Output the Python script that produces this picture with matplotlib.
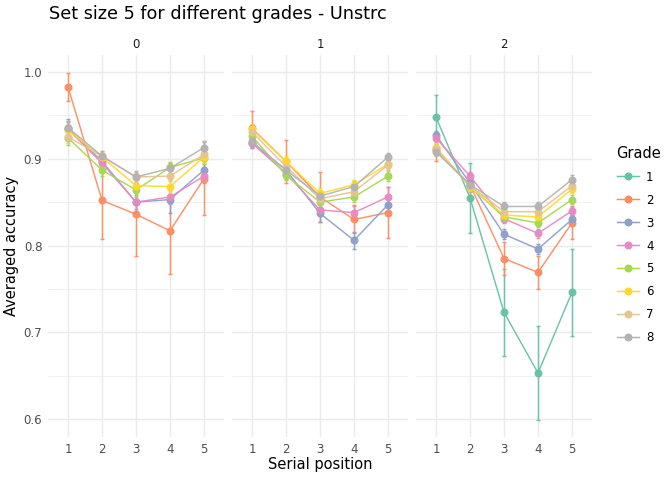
import numpy as np
import matplotlib
matplotlib.use("Agg")
import matplotlib.pyplot as plt
from matplotlib.lines import Line2D

# ====== data ======
positions = [1, 2, 3, 4, 5]
panels = ["0", "1", "2"]
grades = ["1", "2", "3", "4", "5", "6", "7", "8"]
colors = ["#66C2A5", "#FC8D62", "#8DA0CB", "#E78AC3",
          "#A6D854", "#FFD92F", "#E5C494", "#B3B3B3"]

# mean accuracy per panel -> grade -> position (grade 1 only in panel 2)
acc_0 = {
    "2": [0.983, 0.852, 0.836, 0.817, 0.877],
    "3": [0.935, 0.897, 0.850, 0.853, 0.887],
    "4": [0.934, 0.895, 0.850, 0.856, 0.880],
    "5": [0.924, 0.887, 0.864, 0.890, 0.901],
    "6": [0.933, 0.902, 0.869, 0.868, 0.902],
    "7": [0.925, 0.903, 0.879, 0.880, 0.905],
    "8": [0.936, 0.903, 0.879, 0.889, 0.913],
}
se_0 = {
    "2": [0.016, 0.045, 0.048, 0.050, 0.042],
    "3": [0.011, 0.008, 0.014, 0.015, 0.008],
    "4": [0.008, 0.007, 0.008, 0.008, 0.008],
    "5": [0.008, 0.007, 0.008, 0.006, 0.007],
    "6": [0.007, 0.006, 0.007, 0.007, 0.007],
    "7": [0.007, 0.006, 0.006, 0.006, 0.007],
    "8": [0.007, 0.006, 0.007, 0.006, 0.007],
}
acc_1 = {
    "2": [0.935, 0.897, 0.856, 0.830, 0.838],
    "3": [0.918, 0.887, 0.837, 0.806, 0.847],
    "4": [0.918, 0.883, 0.841, 0.838, 0.856],
    "5": [0.926, 0.881, 0.850, 0.856, 0.880],
    "6": [0.934, 0.897, 0.860, 0.870, 0.894],
    "7": [0.931, 0.891, 0.854, 0.862, 0.893],
    "8": [0.920, 0.887, 0.857, 0.868, 0.902],
}
se_1 = {
    "2": [0.020, 0.025, 0.029, 0.015, 0.029],
    "3": [0.006, 0.006, 0.010, 0.010, 0.007],
    "4": [0.006, 0.006, 0.007, 0.009, 0.011],
    "5": [0.006, 0.006, 0.007, 0.006, 0.006],
    "6": [0.006, 0.006, 0.006, 0.006, 0.006],
    "7": [0.006, 0.006, 0.006, 0.006, 0.006],
    "8": [0.006, 0.006, 0.006, 0.006, 0.005],
}
acc_2 = {
    "1": [0.948, 0.855, 0.723, 0.653, 0.746],
    "2": [0.910, 0.870, 0.785, 0.769, 0.826],
    "3": [0.927, 0.872, 0.813, 0.796, 0.830],
    "4": [0.924, 0.880, 0.831, 0.814, 0.840],
    "5": [0.912, 0.868, 0.833, 0.826, 0.853],
    "6": [0.913, 0.868, 0.835, 0.833, 0.865],
    "7": [0.911, 0.869, 0.839, 0.839, 0.869],
    "8": [0.908, 0.870, 0.845, 0.845, 0.876],
}
se_2 = {
    "1": [0.025, 0.040, 0.050, 0.054, 0.050],
    "2": [0.012, 0.008, 0.019, 0.019, 0.018],
    "3": [0.005, 0.005, 0.006, 0.006, 0.005],
    "4": [0.005, 0.005, 0.005, 0.005, 0.005],
    "5": [0.005, 0.005, 0.005, 0.005, 0.005],
    "6": [0.005, 0.005, 0.005, 0.005, 0.005],
    "7": [0.005, 0.005, 0.005, 0.005, 0.005],
    "8": [0.005, 0.005, 0.005, 0.005, 0.005],
}
accs = [acc_0, acc_1, acc_2]
ses = [se_0, se_1, se_2]

# ====== figure ======
W, H = 672, 480
fig = plt.figure(figsize=(W / 96, H / 96), dpi=96)

grid_col = "#EBEBEB"
left_px, panel_w, gap = 47.6, 176.8, 7.2
top_px, bot_px = 54.7, 437.2

axes = []
for i, name in enumerate(panels):
    x0 = left_px + i * (panel_w + gap)
    ax = fig.add_axes([x0 / W, 1 - bot_px / H, panel_w / W, (bot_px - top_px) / H])
    axes.append(ax)
    ax.set_xlim(0.4, 5.6)
    ax.set_ylim(0.579, 1.02)
    ax.set_xticks(positions)
    ax.set_yticks([0.6, 0.7, 0.8, 0.9, 1.0])
    ax.set_yticks([0.65, 0.75, 0.85, 0.95], minor=True)
    ax.grid(True, which="major", color=grid_col, linewidth=1.1)
    ax.grid(True, which="minor", axis="y", color=grid_col, linewidth=0.55)
    ax.set_axisbelow(True)
    for s in ax.spines.values():
        s.set_visible(False)
    ax.tick_params(which="both", length=0, labelsize=8.8, labelcolor="#4D4D4D", pad=4)
    if i > 0:
        ax.set_yticklabels([])
    else:
        ax.set_yticklabels(["0.6", "0.7", "0.8", "0.9", "1.0"])
    ax.set_title(name, fontsize=8.8, color="#1A1A1A", pad=5)

    for g, c in zip(grades, colors):
        if g not in accs[i]:
            continue
        y = accs[i][g]
        e = ses[i][g]
        ax.errorbar(positions, y, yerr=e, color=c, linewidth=1.1,
                    elinewidth=1.1, capsize=1.4, capthick=1.1,
                    marker="o", markersize=5, alpha=0.95)

fig.text(49 / W, 1 - 14 / H, "Set size 5 for different grades - Unstrc",
         fontsize=13.2, color="black", ha="left", va="center")
fig.text((left_px + (3 * panel_w + 2 * gap) / 2) / W, 1 - 465 / H,
         "Serial position", fontsize=11, ha="center", va="center")
fig.text(12 / W, 1 - (top_px + bot_px) / 2 / H, "Averaged accuracy",
         fontsize=11, ha="center", va="center", rotation=90)

handles = [Line2D([0], [0], color=c, linewidth=1.1, marker="o", markersize=5)
           for c in colors]
fig.legend(handles, grades, title="Grade", loc="center left",
           bbox_to_anchor=(606 / W, 1 - 245 / H), frameon=False,
           fontsize=8.8, title_fontsize=11, handlelength=1.9,
           labelspacing=0.85, alignment="left", handletextpad=0.6)

plt.savefig("out.png", dpi=96)
